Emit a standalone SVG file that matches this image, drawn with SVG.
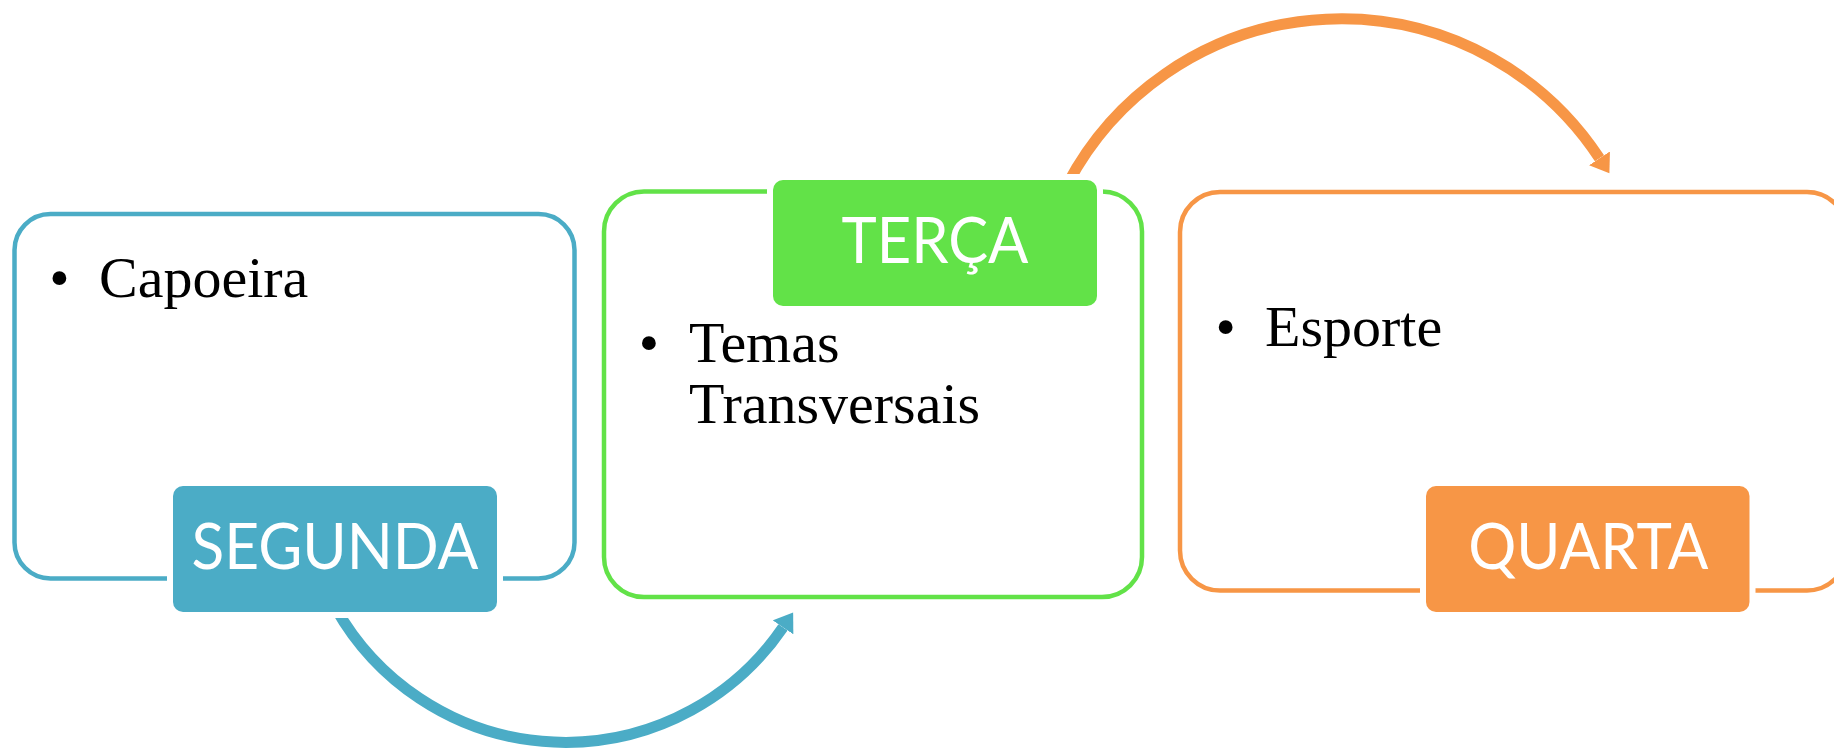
<svg xmlns="http://www.w3.org/2000/svg" width="1834" height="750" viewBox="0 0 1834 750">
  <style>
    .box { fill: none; stroke-width: 4.5; }
    .lbl { stroke: #FFFFFF; stroke-width: 12; paint-order: stroke; }
    .lbltxt { font-family: Lato, "Open Sans", sans-serif; font-size: 63px; fill: #FFFFFF; text-anchor: middle; }
    .body { font-family: "Liberation Serif", "Times New Roman", serif; font-size: 58px; fill: #000000; }
    .bul { font-family: "Liberation Serif", "Times New Roman", serif; font-size: 58px; fill: #000000; text-anchor: middle; }
    .arc { fill: none; stroke-width: 11; }
  </style>
  <defs>
    <marker id="headBlue" markerUnits="userSpaceOnUse" markerWidth="19" markerHeight="25" refX="0" refY="12.5" orient="auto" viewBox="0 0 19 25">
      <path d="M0,0 L18,12.5 L0,25 Z" fill="#4BACC6"/>
    </marker>
    <marker id="headOrange" markerUnits="userSpaceOnUse" markerWidth="19" markerHeight="25" refX="0" refY="12.5" orient="auto" viewBox="0 0 19 25">
      <path d="M0,0 L18,12.5 L0,25 Z" fill="#F79646"/>
    </marker>
  </defs>
  <rect x="0" y="0" width="1834" height="750" fill="#FFFFFF"/>

  <g id="connectors">
    <path class="arc" stroke="#4BACC6" marker-end="url(#headBlue)" d="M335.6,608 A263.5,263.5 0 0 0 783,627.3"/>
    <path class="arc" stroke="#F79646" marker-end="url(#headOrange)" d="M1067.5,184 A309.2,309.2 0 0 1 1599.5,158.3"/>
  </g>

  <g id="node-segunda">
    <rect class="box" x="14.5" y="214" width="560" height="364.5" rx="36" ry="36" stroke="#4BACC6"/>
    <text class="bul" x="59.3" y="296.7">•</text>
    <text class="body" x="99" y="296.7">Capoeira</text>
    <rect class="lbl" x="173" y="486" width="324" height="126" rx="10" ry="10" fill="#4BACC6"/>
    <text class="lbltxt" x="335" y="569" textLength="287" lengthAdjust="spacingAndGlyphs">SEGUNDA</text>
  </g>

  <g id="node-terca">
    <rect class="box" x="604" y="191.5" width="538" height="405.5" rx="40" ry="40" stroke="#62E248"/>
    <text class="bul" x="649" y="361.7">•</text>
    <text class="body" x="689" y="361.7">Temas</text>
    <text class="body" x="689" y="423.3">Transversais</text>
    <rect class="lbl" x="773" y="180" width="324" height="126" rx="10" ry="10" fill="#62E248"/>
    <text class="lbltxt" x="935" y="263.3" textLength="187" lengthAdjust="spacingAndGlyphs">TERÇA</text>
  </g>

  <g id="node-quarta">
    <rect class="box" x="1180" y="192" width="667" height="398.5" rx="40" ry="40" stroke="#F79646"/>
    <text class="bul" x="1225.7" y="345.7">•</text>
    <text class="body" x="1265" y="345.7">Esporte</text>
    <rect class="lbl" x="1426" y="486" width="323.5" height="126" rx="10" ry="10" fill="#F79646"/>
    <text class="lbltxt" x="1588.3" y="569.3" textLength="240" lengthAdjust="spacingAndGlyphs">QUARTA</text>
  </g>
</svg>
